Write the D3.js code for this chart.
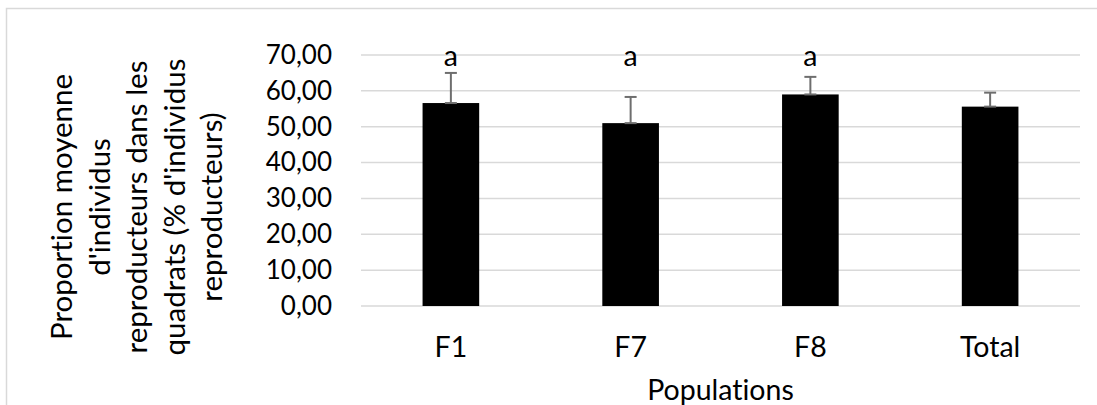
<!DOCTYPE html>
<html>
<head>
<meta charset="utf-8">
<script src="https://cdn.jsdelivr.net/npm/d3@7"></script>
<style>
  html, body { margin: 0; padding: 0; background: #fff; }
  svg { display: block; }
  text { font-family: Lato, "Open Sans", sans-serif; fill: #000; font-variant-ligatures: none; }
</style>
</head>
<body>
<svg id="chart" width="1097" height="405"></svg>
<script>
// Populations and mean proportion of reproductive individuals per quadrat
const populations = ["F1", "F7", "F8", "Total"];
const means = [56.6, 51.0, 59.0, 55.6];
const errors = [8.4, 7.3, 4.9, 3.9];
const letters = ["a", "a", "a", ""];
const yTicks = [0, 10, 20, 30, 40, 50, 60, 70];
const yTitleLines = [
  "Proportion moyenne",
  "d'individus",
  "reproducteurs dans les",
  "quadrats (% d'individus",
  "reproducteurs)"
];
const xTitle = "Populations";

const W = 1097, H = 405;
const margin = { left: 361, right: 17, top: 55, bottom: 99 };
const svg = d3.select("#chart");

// outer chart frame
svg.append("rect")
  .attr("x", 6.5).attr("y", 8.5)
  .attr("width", W + 10).attr("height", H + 10)
  .attr("fill", "#fff").attr("stroke", "#d9d9d9").attr("stroke-width", 1.5);

const x = d3.scaleBand()
  .domain(populations)
  .range([margin.left, W - margin.right])
  .paddingInner(0.685).paddingOuter(0.3425);

const y = d3.scaleLinear()
  .domain([0, 70])
  .range([H - margin.bottom, margin.top]);

const fr = d3.formatLocale({ decimal: ",", thousands: " ", grouping: [3], currency: ["", "€"] });
const fmt = fr.format(".2f");

// horizontal gridlines
svg.append("g")
  .selectAll("line")
  .data(yTicks)
  .join("line")
  .attr("x1", margin.left).attr("x2", W - margin.right)
  .attr("y1", d => y(d)).attr("y2", d => y(d))
  .attr("stroke", "#d9d9d9").attr("stroke-width", 1.5);

// y axis labels
const yAxis = d3.axisLeft(y).tickValues(yTicks).tickFormat(fmt).tickSize(0).tickPadding(29);
const gy = svg.append("g").attr("transform", `translate(${margin.left},0)`).call(yAxis);
gy.select(".domain").remove();
gy.selectAll("text").attr("font-size", 26).attr("font-family", "Lato").attr("fill", "#000");

// x axis labels
const xAxis = d3.axisBottom(x).tickSize(0).tickPadding(31);
const gx = svg.append("g").attr("transform", `translate(0,${y(0)})`).call(xAxis);
gx.select(".domain").remove();
gx.selectAll("text").attr("font-size", 28.5).attr("font-family", "Lato").attr("fill", "#000");

// bars
svg.append("g")
  .selectAll("rect")
  .data(populations)
  .join("rect")
  .attr("x", d => x(d))
  .attr("width", x.bandwidth())
  .attr("y", (d, i) => y(means[i]))
  .attr("height", (d, i) => y(0) - y(means[i]))
  .attr("fill", "#000");

// upper error bars
const eb = svg.append("g").attr("stroke", "#6e6e6e").attr("stroke-width", 2);
populations.forEach((p, i) => {
  const cx = x(p) + x.bandwidth() / 2;
  eb.append("line")
    .attr("x1", cx).attr("x2", cx)
    .attr("y1", y(means[i])).attr("y2", y(means[i] + errors[i]));
  eb.append("line")
    .attr("x1", cx - 6).attr("x2", cx + 6)
    .attr("y1", y(means[i] + errors[i])).attr("y2", y(means[i] + errors[i]));
  eb.append("line")
    .attr("x1", cx - 6).attr("x2", cx + 6)
    .attr("y1", y(means[i])).attr("y2", y(means[i]));
});

// significance letters
svg.append("g")
  .selectAll("text")
  .data(populations)
  .join("text")
  .attr("x", d => x(d) + x.bandwidth() / 2)
  .attr("y", 66)
  .attr("text-anchor", "middle")
  .attr("font-size", 28.5)
  .text((d, i) => letters[i]);

// x axis title
svg.append("text")
  .attr("x", (margin.left + W - margin.right) / 2)
  .attr("y", 400)
  .attr("text-anchor", "middle")
  .attr("font-size", 28.5)
  .text(xTitle);

// y axis title (rotated, multi-line)
const yt = svg.append("text")
  .attr("transform", "translate(62,207) rotate(-90)")
  .attr("text-anchor", "middle")
  .attr("font-size", 29.5);
yTitleLines.forEach((line, i) => {
  yt.append("tspan")
    .attr("x", 0)
    .attr("y", (i - (yTitleLines.length - 1) / 2) * 37.5 + 75 + 10)
    .text(line);
});
</script>
</body>
</html>
